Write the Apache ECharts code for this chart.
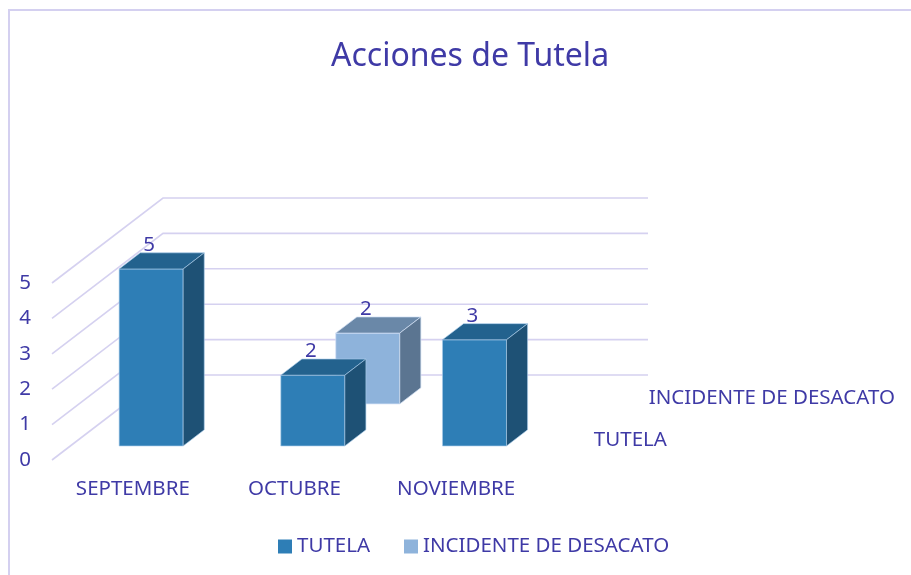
<!DOCTYPE html>
<html>
<head>
<meta charset="utf-8">
<script src="https://cdn.jsdelivr.net/npm/echarts@6/dist/echarts.min.js"></script>
<style>html,body{margin:0;padding:0;background:#fff}#c{width:911px;height:575px}</style>
</head>
<body>
<div id="c"></div>
<script>
const categories = ['SEPTEMBRE', 'OCTUBRE', 'NOVIEMBRE'];
const seriesNames = ['TUTELA', 'INCIDENTE DE DESACATO'];
const tutela = [5, 2, 3];
const incidente = [null, 2, null];
const yTicks = [0, 1, 2, 3, 4, 5];

const TEXT = '#3F3AA6';
const FONT = 'Noto Sans';
const FS = 20.5;
const DX = 111, DY = -85;          // depth vector (pixels)
const ROW_CENTER = [0.26, 0.755];  // depth position of each series row
const BAR_D = 0.19;                // bar depth fraction
const BAR_W = 0.396;               // bar width fraction of band
const PAL = [
  {front: '#2E7EB6', top: '#23628E', side: '#1E5175', edge: 'rgba(170,205,235,0.8)'},
  {front: '#8EB3DB', top: '#6A88A8', side: '#5B7591', edge: 'rgba(210,225,245,0.9)'}
];

function P(x, y, z) { return [x + z * DX, y + z * DY]; }

function barRenderer(row) {
  return function (params, api) {
    const ci = api.value(0), v = api.value(1);
    if (v == null || isNaN(v)) return null;
    const band = api.size([1, 0])[0];
    const base = api.coord([ci, 0]);
    const top = api.coord([ci, v]);
    const w = band * BAR_W;
    const z0 = ROW_CENTER[row] - BAR_D / 2, z1 = z0 + BAR_D;
    const xl = base[0] - w / 2, xr = base[0] + w / 2;
    const yb = base[1], yt = top[1];
    const c = PAL[row];
    const st = (fill) => ({fill: fill, stroke: c.edge, lineWidth: 0.8});
    const lp = P(base[0], yt, z0);
    return {
      type: 'group',
      children: [
        {type: 'polygon', shape: {points: [P(xl, yt, z0), P(xr, yt, z0), P(xr, yb, z0), P(xl, yb, z0)]}, style: st(c.front)},
        {type: 'polygon', shape: {points: [P(xl, yt, z0), P(xr, yt, z0), P(xr, yt, z1), P(xl, yt, z1)]}, style: st(c.top)},
        {type: 'polygon', shape: {points: [P(xr, yt, z0), P(xr, yt, z1), P(xr, yb, z1), P(xr, yb, z0)]}, style: st(c.side)},
        {type: 'text', x: lp[0] - 2, y: lp[1] - 24, style: {text: String(v), fill: TEXT, font: FS + 'px "' + FONT + '"', align: 'center', verticalAlign: 'middle'}}
      ]
    };
  };
}

function gridRenderer(params, api) {
  const v = api.value(1);
  const band = api.size([1, 0])[0];
  const l = api.coord([0, v]);
  const r = api.coord([categories.length - 1, v]);
  const x0 = l[0] - band / 2, x1 = r[0] + band / 2, y = l[1];
  return {
    type: 'polyline',
    shape: {points: [[x0, y], P(x0, y, 1), P(x1, y, 1)]},
    style: {stroke: '#D5D1F0', lineWidth: 1.6, fill: null}
  };
}

function depthLabelRenderer(params, api) {
  const row = api.value(2);
  const band = api.size([1, 0])[0];
  const r = api.coord([categories.length - 1, 0]);
  const p = P(r[0] + band / 2, r[1], ROW_CENTER[row]);
  return {
    type: 'text', x: p[0] + 28, y: p[1] + 2,
    style: {text: seriesNames[row], fill: TEXT, font: FS + 'px "' + FONT + '"', align: 'left', verticalAlign: 'middle'}
  };
}

const chart = echarts.init(document.getElementById('c'));
chart.setOption({
  backgroundColor: '#fff',
  animation: false,
  title: {
    text: 'Acciones de Tutela', left: 326, top: 36,
    textStyle: {color: TEXT, fontFamily: FONT, fontSize: 32, fontWeight: 'normal'}
  },
  graphic: [{type: 'rect', shape: {x: 9, y: 10, width: 1000, height: 1000}, style: {fill: null, stroke: '#D4D0F0', lineWidth: 2}, silent: true}],
  legend: {
    data: seriesNames, left: 273, top: 531, itemWidth: 14, itemHeight: 14, itemGap: 34,
    icon: 'rect', textStyle: {color: TEXT, fontFamily: FONT, fontSize: FS}
  },
  grid: {left: 52, right: 374, top: 283, bottom: 115},
  xAxis: {
    type: 'category', data: categories,
    axisLine: {show: false}, axisTick: {show: false}, splitLine: {show: false},
    axisLabel: {color: TEXT, fontFamily: FONT, fontSize: FS, margin: 19}
  },
  yAxis: {
    type: 'value', min: 0, max: 5, interval: 1,
    axisLine: {show: false}, axisTick: {show: false}, splitLine: {show: false},
    axisLabel: {color: TEXT, fontFamily: FONT, fontSize: FS, margin: 21}
  },
  series: [
    {type: 'custom', name: 'grid', renderItem: gridRenderer, data: yTicks.map(v => [0, v]), encode: {x: 0, y: 1}, silent: true, z: 1},
    {type: 'custom', name: seriesNames[1], renderItem: barRenderer(1), itemStyle: {color: PAL[1].front},
     data: incidente.map((v, i) => [i, v]), encode: {x: 0, y: 1}, z: 2},
    {type: 'custom', name: seriesNames[0], renderItem: barRenderer(0), itemStyle: {color: PAL[0].front},
     data: tutela.map((v, i) => [i, v]), encode: {x: 0, y: 1}, z: 3},
    {type: 'custom', name: 'depth', renderItem: depthLabelRenderer, data: [[categories.length - 1, 0, 0], [categories.length - 1, 0, 1]], encode: {x: 0, y: 1}, silent: true, z: 4}
  ]
});
</script>
</body>
</html>
